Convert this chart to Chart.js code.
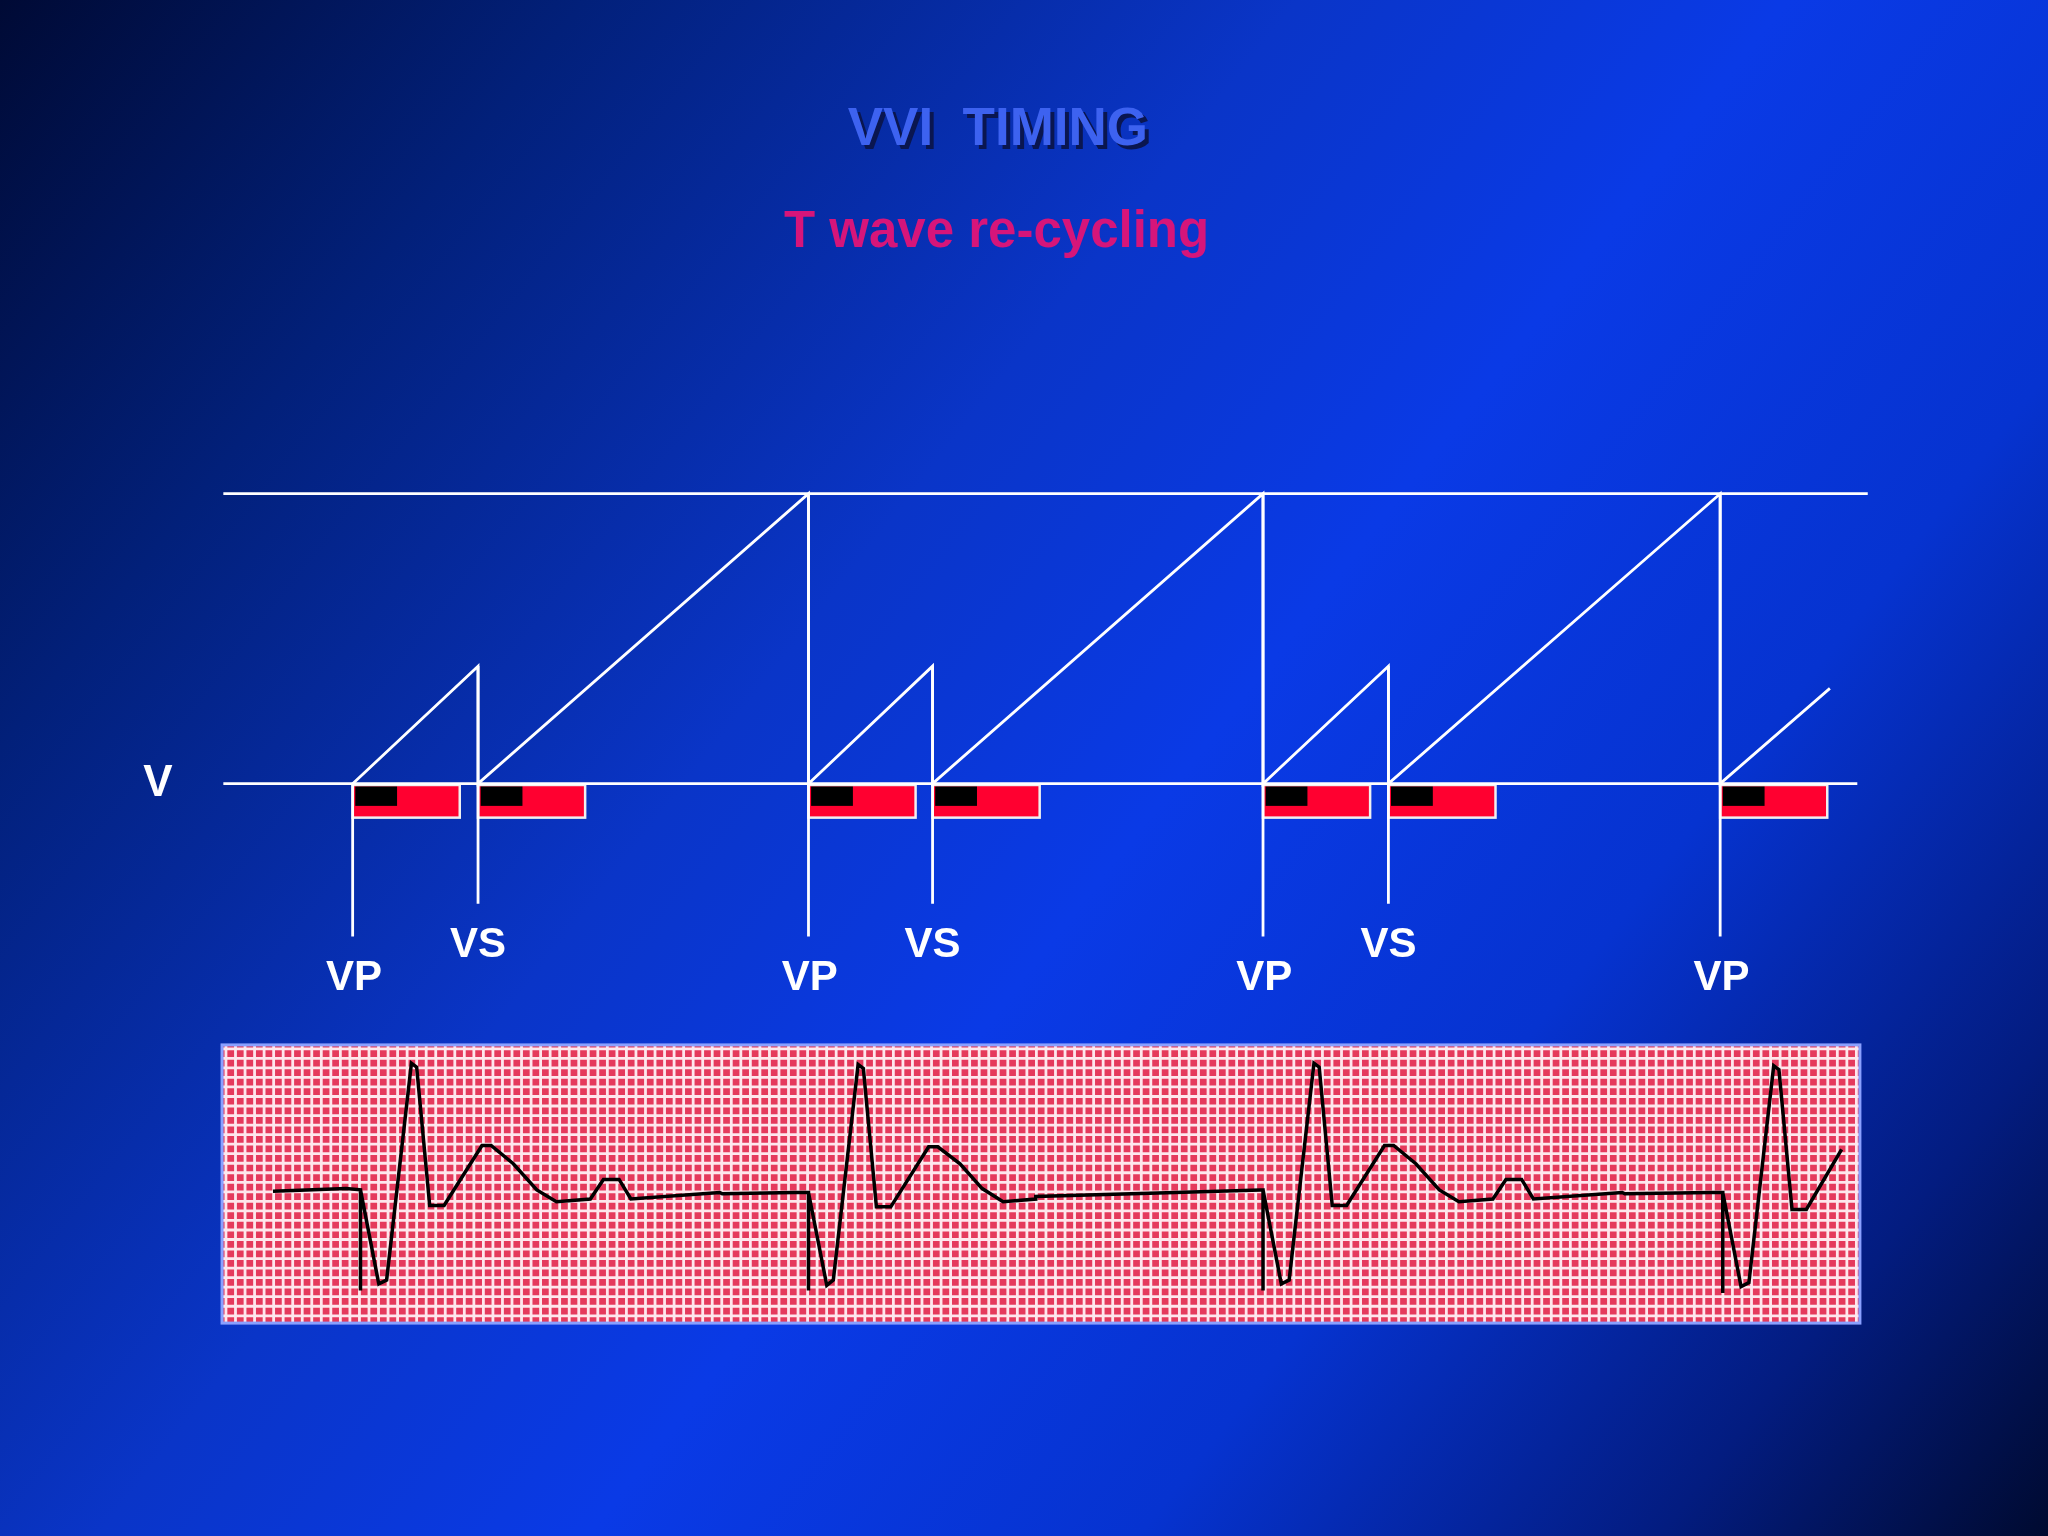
<!DOCTYPE html>
<html><head><meta charset="utf-8">
<script src="https://cdn.jsdelivr.net/npm/chart.js@4/dist/chart.umd.min.js"></script>
<style>
html,body{margin:0;padding:0;width:2048px;height:1536px;overflow:hidden;
background:linear-gradient(128deg,#000a35 0%,#02207a 18%,#0a35c8 40%,#0a3ae6 55%,#0633d0 72%,#031c80 88%,#000a30 100%);}
#w{position:absolute;left:0;top:0;width:2048px;height:1536px;}
</style></head><body>
<div id="w"><canvas id="c" width="2048" height="1536"></canvas></div>
<script>
// Units: horizontal = time position on slide, vertical = level on slide
const titleText = "VVI  TIMING";
const subtitleText = "T wave re-cycling";
const vpTimes = [270, 619, 967, 1317];
const vsTimes = [366, 714, 1063];
const vpLabels = ["VP", "VP", "VP", "VP"];
const vsLabels = ["VS", "VS", "VS"];
const timerBase = 600, timerTop = 378, senseTimerTop = 510, lastTimerEnd = [1401, 527];
const timeStart = 171, timeEnd = 1430;
const refractoryLen = 82;
const ecgX = [209,265,276,276,276,290,296,315,319,329,340,369,376,393,411,426,452,462,474,483,551,553,608,619,
  619,619,633,638,657,661,671,682,711,718,735,752,768,793,793,900,965,967,
  967,967,981,987,1006,1010,1020,1031,1060,1067,1084,1102,1117,1143,1153,1165,1174,1242,1244,1310,1319,
  1319,1319,1333,1339,1358,1362,1372,1383,1410];
const ecgY = [912,910,911,988,911,983,980,814,817,923,923,877,877,891,911,920,918,903,903,918,913,914,913,913,
  988,913,984,980,815,818,924,924,878,878,891,910,920,918,916,913,911,911,
  988,911,983,980,814,817,923,923,877,877,891,911,920,918,903,903,918,913,914,913,913,
  990,913,985,982,816,819,926,926,880];
const ecgBox = {x0:170, x1:1424, y0:800, y1:1013, cell:7.3};

function seg(a){const out=[];a.forEach(s=>{out.push(...s);out.push({x:null,y:null});});return out;}
const saw=[{x:vpTimes[0],y:timerBase}];
for(let i=0;i<vsTimes.length;i++){
  saw.push({x:vsTimes[i],y:senseTimerTop},{x:vsTimes[i],y:timerBase},{x:vpTimes[i+1],y:timerTop},{x:vpTimes[i+1],y:timerBase});
}
saw.push({x:lastTimerEnd[0],y:lastTimerEnd[1]});
const vpLines=seg(vpTimes.map((t,i)=>[{x:t,y:i?timerTop:timerBase},{x:t,y:717}]));
const vsLines=seg(vsTimes.map(t=>[{x:t,y:senseTimerTop},{x:t,y:692}]));
const frame=seg([[{x:timeStart,y:timerTop},{x:timeEnd,y:timerTop}],[{x:timeStart,y:timerBase},{x:1422,y:timerBase}]]);
const ecg=ecgX.map((x,i)=>({x,y:ecgY[i]}));
const W='#ffffff';
function ds(data,color,w){return {data,borderColor:color,borderWidth:w,showLine:true,pointRadius:0,spanGaps:false,tension:0};}

const deco={id:'deco',
 beforeDatasetsDraw(ch){
  const c=ch.ctx,X=ch.scales.x,Y=ch.scales.y;
  const bx0=X.getPixelForValue(ecgBox.x0),bx1=X.getPixelForValue(ecgBox.x1),by0=Y.getPixelForValue(ecgBox.y0),by1=Y.getPixelForValue(ecgBox.y1);
  c.save();c.fillStyle='#e53a5c';c.fillRect(bx0,by0,bx1-bx0,by1-by0);
  c.strokeStyle='rgba(255,240,244,0.95)';c.lineWidth=2.8;c.beginPath();
  for(let v=ecgBox.x0+3;v<ecgBox.x1;v+=ecgBox.cell){const p=X.getPixelForValue(v);c.moveTo(p,by0);c.lineTo(p,by1);}
  for(let v=ecgBox.y0+3;v<ecgBox.y1;v+=ecgBox.cell){const p=Y.getPixelForValue(v);c.moveTo(bx0,p);c.lineTo(bx1,p);}
  c.stroke();c.strokeStyle='#8aa0ff';c.lineWidth=3;c.strokeRect(bx0,by0,bx1-bx0,by1-by0);
  [...vpTimes,...vsTimes].forEach(t=>{
   const x0=X.getPixelForValue(t),x1=X.getPixelForValue(t+refractoryLen),y0=Y.getPixelForValue(timerBase+1),y1=Y.getPixelForValue(timerBase+26);
   c.fillStyle='#ff0030';c.fillRect(x0,y0,x1-x0,y1-y0);
   c.fillStyle='#000';c.fillRect(X.getPixelForValue(t+2),Y.getPixelForValue(timerBase+2),X.getPixelForValue(t+34)-X.getPixelForValue(t+2),Y.getPixelForValue(timerBase+17)-Y.getPixelForValue(timerBase+2));
   c.strokeStyle='#f0f0f0';c.lineWidth=2.5;c.strokeRect(x0,y0,x1-x0,y1-y0);
  });
  c.restore();
 },
 afterDatasetsDraw(ch){
  const c=ch.ctx,X=ch.scales.x,Y=ch.scales.y;
  c.save();c.textAlign='center';c.textBaseline='middle';
  c.font='bold 53px "Liberation Sans", Arial';
  c.fillStyle='#0a1650';c.fillText(titleText,X.getPixelForValue(764)+4,Y.getPixelForValue(100)+4);
  c.fillStyle='#3d62f0';c.fillText(titleText,X.getPixelForValue(764),Y.getPixelForValue(100));
  c.font='bold 51px "Liberation Sans", Arial';c.fillStyle='#d6157a';
  c.fillText(subtitleText,X.getPixelForValue(763),Y.getPixelForValue(178));
  c.fillStyle='#fff';c.font='bold 44px "Liberation Sans", Arial';
  c.fillText('V',X.getPixelForValue(121),Y.getPixelForValue(600));
  c.font='bold 42px "Liberation Sans", Arial';
  vpTimes.forEach((t,i)=>c.fillText(vpLabels[i],X.getPixelForValue(t+1),Y.getPixelForValue(749)));
  vsTimes.forEach((t,i)=>c.fillText(vsLabels[i],X.getPixelForValue(t),Y.getPixelForValue(724)));
  c.restore();
 }};

new Chart(document.getElementById('c'),{type:'scatter',
 data:{datasets:[ds(frame,W,2.8),ds(saw,W,2.8),ds(vpLines,W,2.8),ds(vsLines,W,2.8),ds(ecg,'#000',3.5)]},
 options:{responsive:false,animation:false,devicePixelRatio:1,layout:{padding:0},
  plugins:{legend:{display:false},tooltip:{enabled:false}},
  scales:{x:{type:'linear',min:0,max:1568,display:false},y:{type:'linear',min:0,max:1176,reverse:true,display:false}}},
 plugins:[deco]});
</script></body></html>
